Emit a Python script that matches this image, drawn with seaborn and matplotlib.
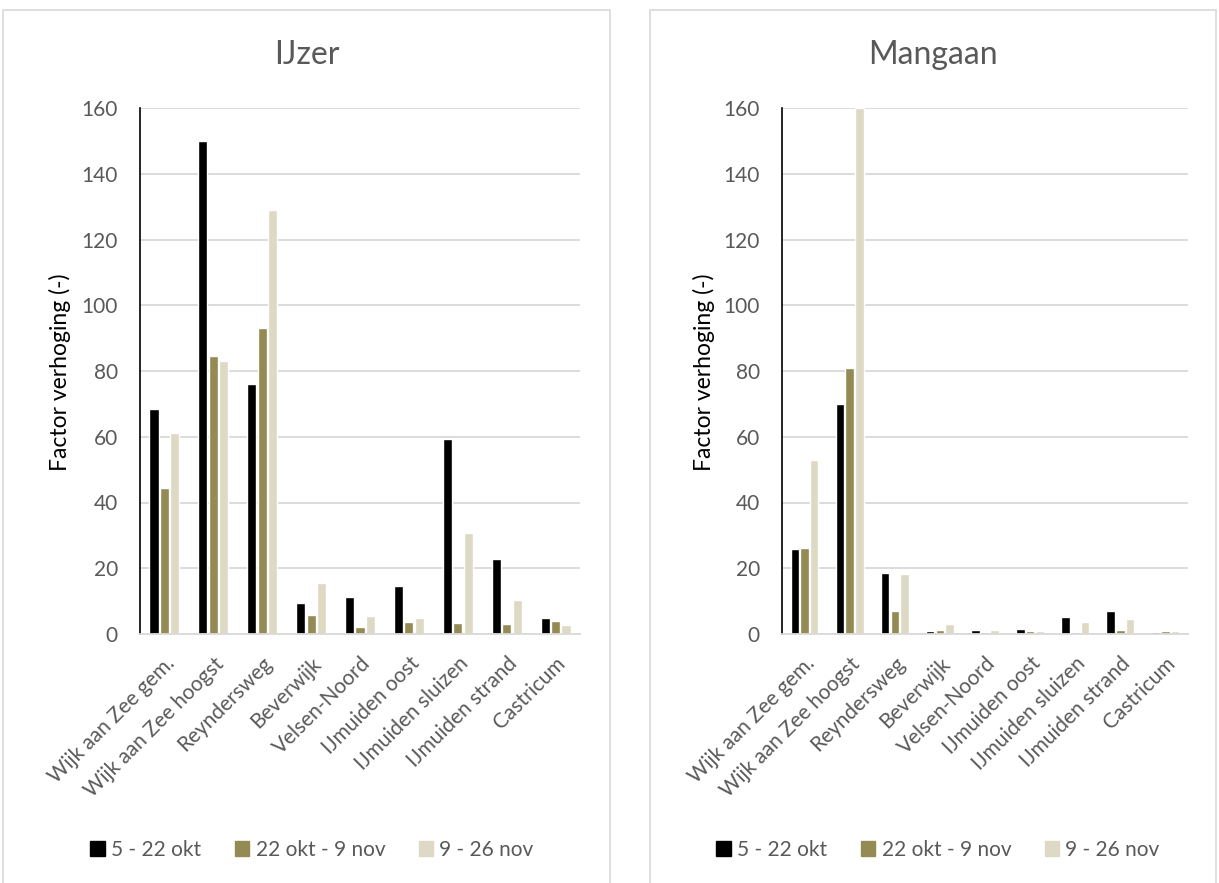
import pandas as pd
import seaborn as sns
import matplotlib.pyplot as plt
from matplotlib.patches import Rectangle

locations = ["Wijk aan Zee gem.", "Wijk aan Zee hoogst", "Reyndersweg", "Beverwijk",
             "Velsen-Noord", "IJmuiden oost", "IJmuiden sluizen", "IJmuiden strand", "Castricum"]
periods = ["5 - 22 okt", "22 okt - 9 nov", "9 - 26 nov"]

ijzer_p1 = [68.4, 150.0, 76.0, 9.3, 11.4, 14.6, 59.3, 22.7, 4.9]
ijzer_p2 = [44.5, 84.6, 93.0, 5.8, 2.0, 3.6, 3.3, 3.1, 4.1]
ijzer_p3 = [61.0, 83.0, 129.0, 15.6, 5.5, 4.8, 30.6, 10.3, 2.7]

mangaan_p1 = [25.9, 70.0, 18.6, 1.0, 1.2, 1.6, 5.2, 7.0, 0.7]
mangaan_p2 = [26.2, 81.0, 7.1, 1.2, 0.5, 0.8, 0.7, 1.3, 0.9]
mangaan_p3 = [53.0, 160.0, 18.4, 2.9, 1.1, 0.9, 3.5, 4.6, 0.9]

yticks = [0, 20, 40, 60, 80, 100, 120, 140, 160]
colors = ["#000000", "#948A54", "#DDD9C4"]
grey_txt = "#595959"


def long_df(p1, p2, p3):
    rows = []
    for per, vals in zip(periods, [p1, p2, p3]):
        for loc, v in zip(locations, vals):
            rows.append({"locatie": loc, "periode": per, "factor": v})
    return pd.DataFrame(rows)


def draw_panel(fig, rect, df, title, title_x, ylab_x, leg_x):
    ax = fig.add_axes(rect)
    sns.barplot(data=df, x="locatie", y="factor", hue="periode", hue_order=periods,
                palette=colors, width=0.64, gap=0.12, ax=ax, legend=False,
                errorbar=None, saturation=1)
    ax.set_ylim(0, 160)
    ax.set_xlim(-0.5, len(locations) - 0.5)
    ax.set_yticks(yticks)
    ax.set_yticklabels([str(t) for t in yticks], color=grey_txt, fontsize=15)
    ax.set_xticks(range(len(locations)))
    ax.set_xticklabels(locations, rotation=45, ha="right", rotation_mode="anchor",
                       color=grey_txt, fontsize=15)
    ax.tick_params(axis="x", length=0, pad=14)
    ax.tick_params(axis="y", length=5, width=1.2, color="black", direction="out", pad=11)
    ax.grid(axis="y", color="#D9D9D9", linewidth=1.3)
    ax.set_axisbelow(True)
    for s in ["top", "right"]:
        ax.spines[s].set_visible(False)
    ax.spines["bottom"].set_color("#D9D9D9")
    ax.spines["bottom"].set_linewidth(1.3)
    ax.spines["left"].set_color("black")
    ax.spines["left"].set_linewidth(1.2)
    ax.set_xlabel("")
    ax.set_ylabel("")
    fig.text(ylab_x, 1 - 372 / 883, "Factor verhoging (-)", rotation=90, ha="center",
             va="center", fontsize=16.5, color="black")
    fig.text(title_x, 1 - 55 / 883, title, ha="center", va="center", fontsize=23,
             color=grey_txt)

    handles = [Rectangle((0, 0), 1, 1, color=c) for c in colors]
    fig.legend(handles, periods, loc="center", bbox_to_anchor=(leg_x, 1 - 850 / 883), ncol=3,
               frameon=False, handlelength=0.7, handleheight=0.7, handletextpad=0.3,
               columnspacing=1.6, fontsize=15, labelcolor=grey_txt)
    return ax


sns.set_theme(style="white")
plt.rcParams["font.family"] = ["Lato", "DejaVu Sans"]

fig = plt.figure(figsize=(12.19, 8.83), dpi=100)

# panel borders
fig.patches.append(Rectangle((3 / 1219, -0.01), 607 / 1219, 1 - 10 / 883 + 0.01,
                             transform=fig.transFigure, fill=False, edgecolor="#D9D9D9",
                             linewidth=1.2))
fig.patches.append(Rectangle((650 / 1219, -0.01), 566 / 1219, 1 - 10 / 883 + 0.01,
                             transform=fig.transFigure, fill=False, edgecolor="#D9D9D9",
                             linewidth=1.2))

draw_panel(fig, [140 / 1219, 249 / 883, 440 / 1219, 526 / 883],
           long_df(ijzer_p1, ijzer_p2, ijzer_p3), "IJzer", 307 / 1219, 60 / 1219, 312 / 1219)
draw_panel(fig, [782 / 1219, 249 / 883, 406 / 1219, 526 / 883],
           long_df(mangaan_p1, mangaan_p2, mangaan_p3), "Mangaan", 933 / 1219, 704 / 1219, 938 / 1219)

fig.savefig("out.png", dpi=100)
